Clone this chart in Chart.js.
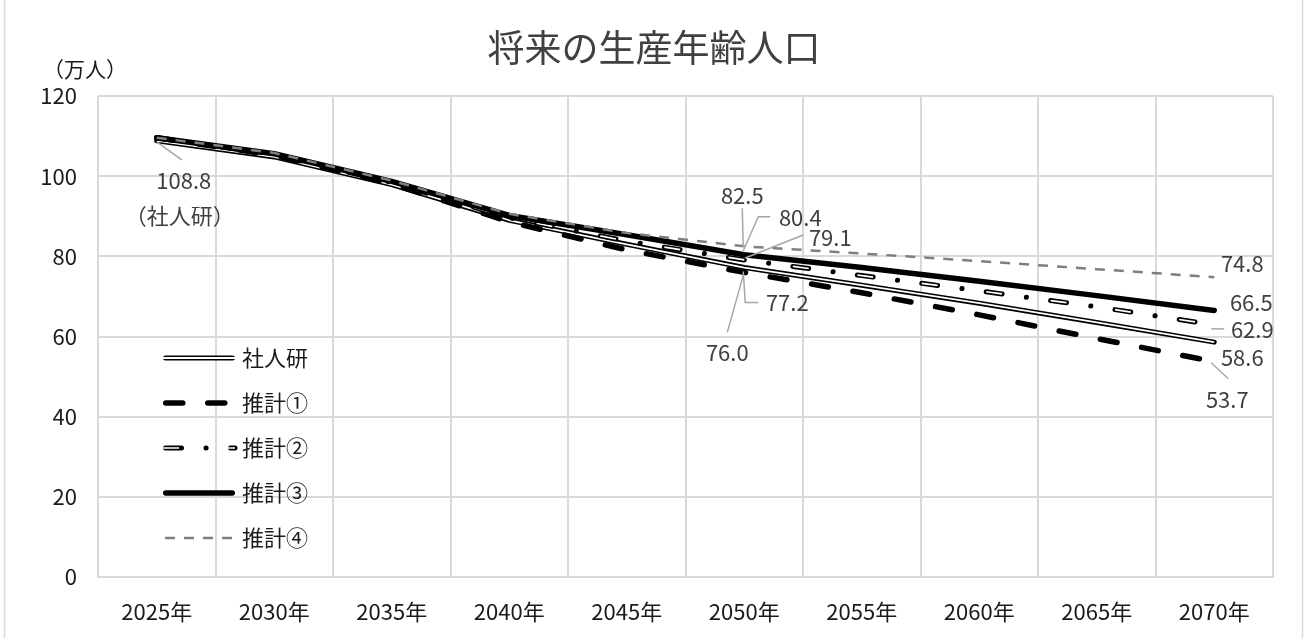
<!DOCTYPE html>
<html lang="ja">
<head>
<meta charset="utf-8">
<title>将来の生産年齢人口</title>
<script src="https://cdn.jsdelivr.net/npm/chart.js@4/dist/chart.umd.min.js"></script>
<style>
  html, body { margin: 0; padding: 0; background: #ffffff; }
  #wrap { position: relative; width: 1307px; height: 638px; }
</style>
</head>
<body>
<div id="wrap"><canvas id="chart"></canvas></div>
<script>
// 生産年齢人口の将来推計（万人）
const years = ['2025年', '2030年', '2035年', '2040年', '2045年', '2050年', '2055年', '2060年', '2065年', '2070年'];
const shajinken = [108.8, 104.8, 97.9, 89.0, 83.0, 77.2, 72.8, 68.3, 63.5, 58.6];
const suikei1   = [109.6, 105.2, 98.1, 88.6, 81.6, 76.0, 70.9, 65.4, 59.5, 53.7];
const suikei2   = [109.6, 105.4, 98.4, 89.6, 83.8, 79.1, 75.2, 71.4, 67.4, 62.9];
const suikei3   = [109.6, 105.6, 98.7, 90.2, 85.4, 80.4, 77.2, 73.8, 70.2, 66.5];
const suikei4   = [109.6, 105.8, 98.9, 90.6, 85.8, 82.5, 80.7, 78.8, 76.8, 74.8];
const yTicks    = [0, 20, 40, 60, 80, 100, 120];

const chartTitle = '将来の生産年齢人口';
const unitLabel = '（万人）';
const legendNames = ['社人研', '推計①', '推計②', '推計③', '推計④'];

const FONT = '"Noto Sans CJK JP", "Noto Sans", sans-serif';
const GRID = '#d9d9d9';
const TEXT_SIZE = 22;

const base = { pointRadius: 0, pointHoverRadius: 0, tension: 0, fill: false, borderJoinStyle: 'round' };

// 二重線・破線は黒線の上に白線を重ねて表現する
const datasets = [
  { ...base, label: '社人研', data: shajinken, borderColor: '#000', borderWidth: 5, borderCapStyle: 'round', order: 10 },
  { ...base, label: '社人研(内)', data: shajinken, borderColor: '#fff', borderWidth: 1.8, borderCapStyle: 'butt', order: 9 },
  { ...base, label: '推計①', data: suikei1, borderColor: '#000', borderWidth: 5.5, borderDash: [17, 25], borderCapStyle: 'round', order: 8 },
  { ...base, label: '推計②', data: suikei2, borderColor: '#000', borderWidth: 5, borderDash: [16, 24.5, 0.1, 24.4], borderCapStyle: 'round', order: 7 },
  { ...base, label: '推計②(内)', data: suikei2, borderColor: '#fff', borderWidth: 1.7, borderDash: [16, 49], borderCapStyle: 'butt', order: 6 },
  { ...base, label: '推計③', data: suikei3, borderColor: '#000', borderWidth: 5.5, borderCapStyle: 'round', order: 5 },
  { ...base, label: '推計④', data: suikei4, borderColor: '#7f7f7f', borderWidth: 2.5, borderDash: [10, 9], borderCapStyle: 'butt', order: 4 }
];

// 凡例の各項目が使う系列（重ね描きの層）
const legendLayers = [[0, 1], [2], [3, 4], [5], [6]];

// データラベル：系列・要素番号・点からのずらし・引き出し線
const valueLabels = [
  { ds: 0, i: 0, dx: 27, dy: 40, sub: '（社人研）', subDx: 23, subDy: 75, leader: [[0, 1], [25, 19]] },
  { ds: 6, i: 5, dx: -2, dy: -51, leader: [[-2, -38], [-1, 1]] },
  { ds: 5, i: 5, dx: 56, dy: -37, leader: [[26, -38], [14, -38], [-1, -4]] },
  { ds: 3, i: 5, dx: 86, dy: -22, leader: [[59, -25], [1, -2]] },
  { ds: 0, i: 5, dx: 43, dy: 35, leader: [[14, 35], [1, 35], [-1, 4]] },
  { ds: 2, i: 5, dx: -17, dy: 80, leader: [[-17, 60], [-1, 3]] },
  { ds: 6, i: 9, dx: 28, dy: -14 },
  { ds: 5, i: 9, dx: 37, dy: -8 },
  { ds: 3, i: 9, dx: 38, dy: 5, leader: [[-3, 4], [10, 4]] },
  { ds: 0, i: 9, dx: 28, dy: 16 },
  { ds: 2, i: 9, dx: 13, dy: 38, leader: [[-3, 1], [14, 17]] }
];

function strokeSample(ctx, ds, x0, x1, y) {
  ctx.save();
  ctx.strokeStyle = ds.borderColor;
  ctx.lineWidth = ds.borderWidth;
  ctx.lineCap = ds.borderCapStyle || 'butt';
  ctx.setLineDash(ds.borderDash || []);
  ctx.lineDashOffset = 0;
  ctx.beginPath();
  ctx.moveTo(x0, y);
  ctx.lineTo(x1, y);
  ctx.stroke();
  ctx.restore();
}

const decorations = {
  id: 'decorations',
  afterDraw(chart) {
    const ctx = chart.ctx;
    ctx.save();

    // 外枠
    ctx.strokeStyle = GRID;
    ctx.lineWidth = 1.5;
    ctx.strokeRect(4.5, -2, 1298, 642);

    // タイトル
    ctx.fillStyle = '#404040';
    ctx.font = '37px ' + FONT;
    ctx.textAlign = 'center';
    ctx.textBaseline = 'middle';
    ctx.fillText(chartTitle, 654, 48);

    // 単位
    ctx.fillStyle = '#1a1a1a';
    ctx.font = '21px ' + FONT;
    ctx.fillText(unitLabel, 85, 69);

    // 凡例
    const rowY = [358, 403, 448, 493, 538];
    ctx.textAlign = 'left';
    legendNames.forEach((name, k) => {
      const y = rowY[k];
      legendLayers[k].forEach(di => {
        const ds = chart.data.datasets[di];
        const inset = ds.borderCapStyle === 'round' ? ds.borderWidth / 2 : 0;
        strokeSample(ctx, ds, 163 + inset + (k === 4 ? 2 : 0), 235 - (k === 4 ? 3 : 0) - (ds.borderCapStyle === 'round' && k !== 2 ? inset : 0), y);
      });
      ctx.fillStyle = '#1a1a1a';
      ctx.font = TEXT_SIZE + 'px ' + FONT;
      ctx.fillText(name, 242, y);
    });

    // データラベル
    ctx.font = TEXT_SIZE + 'px ' + FONT;
    ctx.fillStyle = '#404040';
    ctx.textAlign = 'center';
    valueLabels.forEach(lb => {
      const pt = chart.getDatasetMeta(lb.ds).data[lb.i];
      const v = chart.data.datasets[lb.ds].data[lb.i];
      if (lb.leader) {
        ctx.save();
        ctx.strokeStyle = '#a6a6a6';
        ctx.lineWidth = 1.5;
        ctx.beginPath();
        lb.leader.forEach(([ox, oy], j) => {
          if (j === 0) ctx.moveTo(pt.x + ox, pt.y + oy);
          else ctx.lineTo(pt.x + ox, pt.y + oy);
        });
        ctx.stroke();
        ctx.restore();
      }
      ctx.fillText(v.toFixed(1), pt.x + lb.dx, pt.y + lb.dy);
      if (lb.sub) ctx.fillText(lb.sub, pt.x + lb.subDx, pt.y + lb.subDy);
    });

    ctx.restore();
  }
};

new Chart(document.getElementById('chart'), {
  type: 'line',
  data: { labels: years, datasets },
  options: {
    responsive: true,
    maintainAspectRatio: false,
    animation: false,
    events: [],
    layout: { padding: { top: 96, right: 34, left: 0, bottom: 0 } },
    plugins: {
      legend: { display: false },
      title: { display: false },
      tooltip: { enabled: false }
    },
    scales: {
      x: {
        type: 'category',
        offset: true,
        grid: { offset: true, color: GRID, lineWidth: 2, drawTicks: false },
        border: { display: true, color: GRID, width: 2 },
        ticks: { color: '#1a1a1a', font: { family: FONT, size: TEXT_SIZE }, padding: 21, maxRotation: 0, autoSkip: false },
        afterFit: s => { s.height = 61; }
      },
      y: {
        min: yTicks[0],
        max: yTicks[yTicks.length - 1],
        afterBuildTicks: s => { s.ticks = yTicks.map(v => ({ value: v })); },
        grid: { color: GRID, lineWidth: 2, drawTicks: false },
        border: { display: false },
        ticks: { color: '#1a1a1a', font: { family: FONT, size: TEXT_SIZE }, padding: 21 },
        afterFit: s => { s.width = 98; }
      }
    }
  },
  plugins: [decorations]
});
</script>
</body>
</html>
